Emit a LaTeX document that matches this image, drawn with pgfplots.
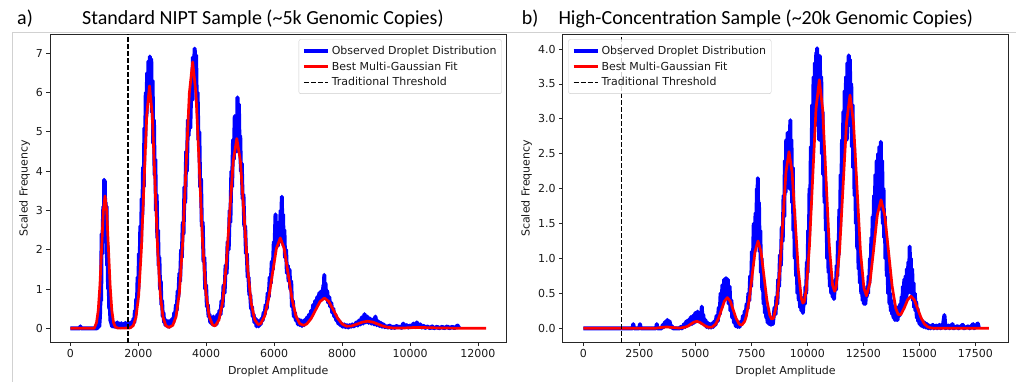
\documentclass[border=0pt]{standalone}
\usepackage{pgfplots}
\pgfplotsset{compat=1.18}
\usepackage{fontspec}
\setmainfont{DejaVu Sans}
\newfontfamily\titlefont{Carlito}
\definecolor{obsblue}{RGB}{0,0,255}
\definecolor{fitred}{RGB}{255,0,0}
\pgfplotsset{
  myax/.style={
    scale only axis, anchor=south west,
    axis line style={black!85, line width=0.8pt},
    every tick/.style={black!85, line width=0.8pt},
    major tick length=3.5pt, tick align=outside,
    xtick pos=left, ytick pos=left,
    minor tick num=0,
    tick label style={font=\fontsize{11}{13}\selectfont, text=black!90},
    label style={font=\fontsize{11}{13}\selectfont, text=black!90},
    /pgf/number format/assume math mode=true,
    /pgf/number format/1000 sep={},
    scaled ticks=false,
    xlabel style={at={(axis description cs:0.5,0)}, anchor=base, yshift=-31.3pt},
    legend cell align=left,
    legend image code/.code={\draw[#1] (0pt,0pt) -- (24pt,0pt);},
    legend style={font=\fontsize{11}{13}\selectfont, draw=black!20, rounded corners=2pt,
      fill=white, fill opacity=0.8, text opacity=1, inner xsep=3pt, inner ysep=4.5pt,
      row sep=1.8pt, text=black!90},
  },
  obs/.style={obsblue, line width=4pt, line join=round},
  fit/.style={fitred, line width=2.7pt, line join=round},
  thr/.style={black, line width=1.3pt, dash pattern=on 5pt off 2pt},
}
\begin{document}
\begin{tikzpicture}
\useasboundingbox (0pt,-382pt) rectangle (1016pt,0pt);
\draw[black!18, line width=0.8pt] (12pt,-382pt) -- (12pt,-32.7pt) -- (1016pt,-32.7pt);
\node[anchor=base west, inner sep=0pt, font=\titlefont\fontsize{20}{24}\selectfont] at (17pt,-24.3pt) {a)};
\node[anchor=base west, inner sep=0pt, font=\titlefont\fontsize{20}{24}\selectfont] at (82pt,-24.3pt) {Standard NIPT Sample (\textasciitilde 5k Genomic Copies)};
\node[anchor=base west, inner sep=0pt, font=\titlefont\fontsize{20}{24}\selectfont] at (521.7pt,-24.3pt) {b)};
\node[anchor=base west, inner sep=0pt, font=\titlefont\fontsize{20}{24}\selectfont] at (558.3pt,-24.3pt) {High-Concentration Sample (\textasciitilde 20k Genomic Copies)};

\begin{axis}[myax, at={(50pt,-342.7pt)}, width=456.5pt, height=308.7pt,
  xmin=-600, xmax=12840, ymin=-0.366, ymax=7.491,
  xtick={0,2000,4000,6000,8000,10000,12000},
  ytick={0,1,2,3,4,5,6,7},
  xlabel={Droplet Amplitude}, ylabel={Scaled Frequency},
  ylabel style={at={(axis description cs:-0.0559,0.5)}, anchor=center},
  legend style={at={(rel axis cs:1,1)}, anchor=north east, xshift=-4.8pt, yshift=-5.3pt},
]
\addplot[obs] coordinates {
(0,0) (280,0) (294,0.05) (310,0) (780,0) (800,0.02) (830,0.10) (850,0.05) (870,0.30) (890,0.9) (905,0.7) (920,2.4) (940,1.9) (955,2.6) (970,3.1) (985,2.5) (995,3.78) (1005,3.0) (1015,3.75) (1030,2.2) (1040,3.2) (1055,2.4) (1065,3.1) (1080,1.6) (1095,2.1) (1110,1.0) (1125,1.3) (1145,0.5) (1160,0.6) (1180,0.2) (1200,0.15)
(1230,0.05) (1260,0.14) (1290,0.04) (1320,0.12) (1350,0.03) (1380,0.15) (1410,0.05) (1440,0.12) (1470,0.03) (1500,0.13) (1530,0.05) (1560,0.11) (1590,0.03) (1620,0.14) (1650,0.04) (1680,0.12) (1710,0.05) (1740,0.13) (1770,0.06) (1800,0.16) (1830,0.10)
(1860,0.25) (1880,0.15) (1900,0.45) (1920,0.35) (1940,0.75) (1960,0.6) (1980,1.3) (2000,1.0) (2020,1.9) (2040,1.6) (2060,2.6) (2080,2.2) (2100,3.3) (2120,2.9) (2140,4.1) (2160,3.6) (2180,5.1) (2200,4.6) (2220,6.0) (2240,5.4) (2260,6.5) (2280,5.9) (2300,6.8) (2320,6.1) (2340,6.92) (2360,6.2) (2380,6.85) (2400,5.5) (2420,6.3) (2440,4.7) (2460,5.3) (2480,3.9) (2500,4.3) (2520,3.0) (2540,3.4) (2560,2.3) (2580,2.5) (2600,1.6) (2620,1.8) (2640,1.0) (2660,1.2) (2680,0.6) (2700,0.7) (2720,0.3) (2740,0.4) (2760,0.15) (2780,0.22)
(2800,0.08) (2830,0.2) (2860,0.05) (2890,0.18) (2920,0.04) (2950,0.2) (2980,0.1)
(3010,0.25) (3030,0.15) (3060,0.4) (3080,0.3) (3110,0.6) (3130,0.45) (3160,0.95) (3180,0.8) (3210,1.4) (3230,1.2) (3260,2.0) (3280,1.8) (3310,2.7) (3330,2.4) (3360,3.6) (3380,3.2) (3410,4.5) (3430,4.0) (3460,5.3) (3480,4.9) (3510,5.6) (3530,5.1) (3560,6.2) (3580,5.8) (3610,6.9) (3630,6.4) (3660,7.12) (3680,6.5) (3700,6.95) (3720,5.8) (3745,6.0) (3770,4.8) (3795,5.0) (3820,3.6) (3845,3.8) (3870,2.6) (3895,2.7) (3920,1.7) (3945,1.8) (3970,1.0) (3995,1.1) (4020,0.55) (4045,0.6) (4070,0.3) (4095,0.35) (4120,0.15) (4150,0.25)
(4180,0.1) (4210,0.3) (4240,0.08) (4270,0.28) (4300,0.1) (4330,0.35)
(4360,0.25) (4390,0.45) (4420,0.35) (4450,0.7) (4480,0.55) (4510,1.1) (4540,0.9) (4570,1.6) (4600,1.4) (4630,2.2) (4660,2.0) (4690,3.0) (4710,2.7) (4740,4.0) (4760,3.6) (4790,4.8) (4810,4.3) (4840,5.4) (4860,4.9) (4880,5.3) (4900,4.5) (4920,5.88) (4940,5.0) (4960,5.7) (4980,4.6) (5000,4.9) (5020,4.0) (5045,4.2) (5070,3.3) (5095,3.4) (5120,2.6) (5145,2.6) (5170,1.9) (5195,1.9) (5220,1.3) (5245,1.3) (5270,0.85) (5295,0.85) (5320,0.5) (5345,0.55) (5370,0.3) (5395,0.35) (5420,0.15) (5450,0.25)
(5480,0.05) (5510,0.2) (5540,0.05) (5570,0.18) (5600,0.1)
(5630,0.25) (5660,0.2) (5690,0.4) (5720,0.35) (5750,0.6) (5780,0.5) (5810,0.9) (5840,0.8) (5870,1.3) (5900,1.15) (5930,1.7) (5960,1.5) (5990,2.2) (6010,2.0) (6040,2.9) (6060,2.3) (6090,2.6) (6110,2.1) (6140,2.7) (6160,2.2) (6190,3.0) (6210,2.4) (6225,3.35) (6240,2.5) (6260,2.9) (6280,2.1) (6300,2.5) (6320,1.8) (6350,2.0) (6375,1.4) (6400,1.6) (6425,1.2) (6450,1.5) (6475,1.0) (6500,1.2) (6525,0.55) (6550,0.7) (6580,0.3) (6610,0.4) (6640,0.2) (6670,0.25)
(6700,0.1) (6730,0.22) (6760,0.08) (6790,0.2) (6820,0.06) (6850,0.18) (6880,0.08) (6910,0.22)
(6940,0.15) (6970,0.28) (7000,0.2) (7030,0.35) (7060,0.28) (7090,0.45) (7120,0.35) (7150,0.6) (7180,0.5) (7210,0.7) (7240,0.55) (7270,0.8) (7300,0.65) (7330,0.9) (7360,0.7) (7390,0.95) (7420,0.75) (7450,1.1) (7465,0.85) (7475,1.36) (7490,0.9) (7510,1.15) (7530,0.8) (7560,0.95) (7590,0.65) (7620,0.8) (7650,0.55) (7680,0.65) (7710,0.4) (7740,0.5) (7770,0.3) (7800,0.35) (7830,0.2) (7860,0.25) (7890,0.12) (7920,0.18) (7950,0.08) (7980,0.12)
(8020,0.04) (8060,0.1) (8100,0.03) (8140,0.08) (8180,0.02) (8220,0.08) (8260,0.04) (8300,0.1) (8340,0.05)
(8380,0.08) (8420,0.15) (8460,0.07) (8500,0.2) (8540,0.1) (8580,0.28) (8620,0.12) (8660,0.36) (8700,0.15) (8740,0.3) (8780,0.14) (8820,0.25) (8860,0.12) (8900,0.22) (8940,0.1) (8980,0.3) (9020,0.08) (9060,0.18) (9100,0.06) (9140,0.14) (9180,0.04) (9220,0.1) (9260,0.03)
(9300,0.06) (9350,0.02) (9400,0.07) (9450,0.01) (9500,0.05) (9550,0.01) (9600,0.06) (9650,0.02) (9700,0.05) (9750,0.01) (9800,0.12) (9850,0.03) (9900,0.08) (9950,0.02) (10000,0.07) (10050,0.03) (10100,0.12) (10150,0.03) (10200,0.15) (10250,0.04) (10300,0.1) (10350,0.02) (10400,0.06) (10450,0.01) (10500,0.05) (10600,0.0) (10650,0.05) (10700,0.0) (10800,0.04) (10850,0.0) (10950,0.04) (11000,0.0) (11100,0.05) (11150,0.0) (11250,0.04) (11300,0.0) (11400,0.07) (11450,0.0)
};
\addlegendentry{Observed Droplet Distribution}
\addplot[fit] coordinates {
(0,0) (700,0) (720,0.037) (770,0.148) (820,0.456) (870,1.094) (920,2.044) (970,2.974) (1020,3.37) (1070,2.974) (1120,2.044) (1170,1.094) (1220,0.456) (1270,0.148) (1320,0.037) (1400,0.005) (1700,0.006) (1770,0.013) (1850,0.068) (1930,0.271) (2010,0.835) (2090,2.003) (2170,3.742) (2250,5.445) (2330,6.17) (2410,5.445) (2490,3.742) (2570,2.003) (2650,0.835) (2730,0.271) (2810,0.070) (2900,0.022) (3015,0.075) (3112,0.298) (3210,0.917) (3307,2.201) (3405,4.112) (3502,5.983) (3600,6.78) (3697,5.983) (3795,4.112) (3892,2.201) (3990,0.917) (4087,0.301) (4185,0.090) (4240,0.066) (4270,0.072) (4375,0.215) (4480,0.654) (4585,1.568) (4690,2.930) (4795,4.263) (4900,4.83) (5005,4.263) (5110,2.930) (5215,1.568) (5320,0.656) (5425,0.223) (5530,0.096) (5605,0.120) (5720,0.314) (5835,0.747) (5950,1.395) (6065,2.030) (6180,2.30) (6295,2.030) (6410,1.395) (6525,0.748) (6640,0.315) (6755,0.117) (6870,0.074) (6960,0.111) (7090,0.250) (7220,0.467) (7350,0.680) (7480,0.77) (7610,0.681) (7740,0.470) (7870,0.257) (8000,0.112) (8130,0.055) (8260,0.056) (8450,0.109) (8600,0.159) (8750,0.18) (8900,0.159) (9050,0.109) (9200,0.058) (9350,0.024) (9500,0.008) (9800,0.008) (10100,0.02) (10400,0.02) (10800,0.01) (11300,0.004) (12240,0)
};
\addlegendentry{Best Multi-Gaussian Fit}
\addplot[thr] coordinates {(1700,-0.366) (1700,7.491)};
\addlegendentry{Traditional Threshold}
\end{axis}

\begin{axis}[myax, at={(562.7pt,-342.7pt)}, width=445.6pt, height=308.7pt,
  xmin=-920, xmax=18973, ymin=-0.206, ymax=4.215,
  xtick={0,2500,5000,7500,10000,12500,15000,17500},
  ytick={0,0.5,1,1.5,2,2.5,3,3.5,4},
  yticklabel style={/pgf/number format/fixed, /pgf/number format/fixed zerofill, /pgf/number format/precision=1},
  xlabel={Droplet Amplitude}, ylabel={Scaled Frequency},
  ylabel style={at={(axis description cs:-0.0808,0.5)}, anchor=center},
  legend style={at={(rel axis cs:0,1)}, anchor=north west, xshift=5.6pt, yshift=-5.3pt},
]
\addplot[obs] coordinates {
(0,0) (2200,0) (2230,0.06) (2260,0) (2500,0) (2530,0.06) (2560,0) (3250,0) (3280,0.06) (3310,0) (3500,0) (3550,0.05) (3600,0.02) (3650,0.09) (3700,0.04) (3750,0.12) (3800,0.05) (3850,0.1) (3900,0.02) (3950,0.03) (4000,0) (4300,0) (4350,0.02) (4400,0.0)
(4450,0.02) (4500,0.06) (4550,0.02) (4600,0.1) (4650,0.04) (4700,0.12) (4750,0.05) (4800,0.16) (4850,0.06) (4900,0.18) (4950,0.08) (5000,0.22) (5050,0.1) (5100,0.24) (5150,0.1) (5200,0.2) (5250,0.08) (5290,0.31) (5320,0.08) (5350,0.2) (5400,0.05) (5450,0.12) (5500,0.02) (5550,0.08) (5600,0.01) (5650,0.06) (5700,0.01) (5750,0.07) (5800,0.02) (5850,0.1) (5900,0.05) (5950,0.18) (6000,0.1) (6050,0.3) (6090,0.2) (6130,0.5) (6170,0.3) (6210,0.62) (6250,0.4) (6290,0.7) (6330,0.45) (6370,0.72) (6410,0.45) (6450,0.7) (6490,0.35) (6530,0.6) (6570,0.25) (6610,0.4) (6650,0.15) (6690,0.22) (6730,0.08) (6770,0.12) (6810,0.03) (6850,0.08) (6890,0.02) (6930,0.06) (6970,0.02) (7010,0.06)
(7050,0.1) (7090,0.08) (7130,0.18) (7170,0.12) (7210,0.25) (7250,0.18) (7290,0.35) (7330,0.28) (7370,0.5) (7410,0.4) (7450,0.75) (7490,0.6) (7530,1.1) (7570,0.9) (7610,1.5) (7650,1.1) (7690,1.65) (7720,1.2) (7750,2.0) (7770,1.5) (7790,2.15) (7810,1.4) (7840,1.8) (7870,1.1) (7900,1.4) (7930,0.8) (7960,1.0) (7990,0.55) (8020,0.65) (8050,0.35) (8080,0.45) (8110,0.22) (8140,0.3) (8170,0.15) (8200,0.2) (8230,0.08) (8260,0.14)
(8300,0.06) (8340,0.15) (8380,0.05) (8420,0.12) (8460,0.06) (8500,0.18)
(8540,0.3) (8580,0.2) (8620,0.45) (8660,0.35) (8700,0.7) (8740,0.6) (8780,1.05) (8820,0.9) (8860,1.45) (8900,1.25) (8940,1.9) (8970,1.6) (9000,2.4) (9030,1.95) (9060,2.7) (9090,2.1) (9120,2.8) (9150,2.2) (9180,2.75) (9210,2.0) (9240,2.98) (9260,2.1) (9290,2.7) (9320,1.8) (9350,2.3) (9380,1.4) (9410,1.7) (9440,1.0) (9470,1.25) (9500,0.75) (9530,0.9) (9560,0.5) (9590,0.65) (9620,0.4) (9650,0.5) (9680,0.3) (9710,0.42) (9740,0.25) (9770,0.38) (9800,0.22) (9830,0.35)
(9860,0.45) (9890,0.35) (9920,0.6) (9950,0.5) (9980,0.95) (10010,0.8) (10040,1.4) (10070,1.2) (10100,2.0) (10130,1.7) (10160,2.6) (10190,2.3) (10220,3.2) (10250,2.8) (10280,3.6) (10310,3.0) (10340,3.8) (10370,3.1) (10400,3.95) (10420,3.0) (10440,4.01) (10470,2.9) (10500,3.8) (10530,2.7) (10560,3.9) (10590,2.9) (10620,3.6) (10650,2.5) (10680,3.1) (10710,2.2) (10740,2.6) (10770,1.8) (10800,2.1) (10830,1.4) (10860,1.6) (10890,1.0) (10920,1.2) (10950,0.8) (10980,0.95) (11010,0.6) (11040,0.75) (11070,0.5) (11100,0.65) (11130,0.45) (11160,0.6) (11190,0.42) (11220,0.58)
(11250,0.7) (11280,0.55) (11310,0.9) (11340,0.75) (11370,1.25) (11400,1.05) (11430,1.7) (11460,1.45) (11490,2.2) (11520,1.9) (11550,2.7) (11580,2.3) (11610,3.1) (11640,2.6) (11670,3.4) (11700,2.8) (11730,3.6) (11760,2.7) (11790,3.8) (11820,2.9) (11850,3.91) (11870,3.0) (11900,3.85) (11930,2.9) (11960,3.5) (11990,2.6) (12020,3.2) (12050,2.3) (12080,2.7) (12110,1.9) (12140,2.2) (12170,1.5) (12200,1.75) (12230,1.15) (12260,1.35) (12290,0.85) (12320,1.0) (12350,0.65) (12380,0.8) (12410,0.5) (12440,0.65) (12470,0.4) (12500,0.55) (12530,0.35) (12560,0.5) (12590,0.35) (12620,0.5)
(12650,0.45) (12680,0.6) (12710,0.5) (12740,0.75) (12770,0.65) (12800,1.0) (12830,0.85) (12860,1.3) (12890,1.1) (12920,1.6) (12950,1.35) (12980,1.9) (13010,1.55) (13040,2.2) (13070,1.6) (13100,2.4) (13130,1.7) (13160,2.5) (13190,1.75) (13220,2.6) (13250,1.8) (13280,2.67) (13310,1.7) (13340,2.4) (13370,1.5) (13400,2.0) (13430,1.3) (13460,1.6) (13490,1.0) (13520,1.3) (13550,0.75) (13580,0.95) (13610,0.5) (13640,0.7) (13670,0.35) (13700,0.5) (13730,0.25) (13760,0.4) (13790,0.2) (13820,0.3) (13850,0.15) (13880,0.25) (13910,0.12) (13940,0.22) (13970,0.12) (14000,0.3) (14030,0.12) (14060,0.3)
(14090,0.3) (14120,0.18) (14150,0.35) (14180,0.22) (14210,0.45) (14240,0.28) (14270,0.6) (14300,0.35) (14330,0.7) (14360,0.4) (14390,0.75) (14420,0.45) (14450,0.85) (14480,0.5) (14510,0.95) (14540,0.55) (14570,1.17) (14590,0.6) (14620,1.0) (14650,0.5) (14680,0.85) (14710,0.4) (14740,0.65) (14770,0.3) (14800,0.5) (14830,0.25) (14860,0.38) (14890,0.15) (14920,0.28) (14950,0.1) (14980,0.2) (15010,0.06) (15040,0.15) (15070,0.04) (15100,0.12) (15130,0.03) (15160,0.1) (15200,0.02) (15250,0.08) (15300,0.01) (15350,0.06) (15400,0.0)
(15450,0.04) (15500,0.0) (15600,0.05) (15650,0.0) (15750,0.04) (15800,0.0) (15900,0.05) (15950,0.0) (16050,0.03) (16120,0.19) (16170,0.0) (16300,0.04) (16350,0.0) (16480,0.06) (16530,0.0) (16700,0.03) (16750,0.0) (16940,0.05) (16990,0.0) (17200,0.03) (17250,0.0) (17400,0.06) (17450,0.0) (17610,0.07) (17660,0.0)
};
\addlegendentry{Observed Droplet Distribution}
\addplot[fit] coordinates {
(0,0) (3200,0) (3470,0.012) (3720,0.02) (3970,0.012) (4300,0.003) (4540,0.017) (4672,0.032) (4802,0.061) (4932,0.088) (5062,0.10) (5192,0.088) (5322,0.061) (5452,0.033) (5582,0.016) (5745,0.017) (5909,0.060) (6039,0.143) (6169,0.267) (6299,0.388) (6429,0.44) (6559,0.388) (6689,0.267) (6819,0.144) (6949,0.066) (7000,0.051) (7080,0.048) (7200,0.097) (7275,0.171) (7406,0.406) (7537,0.758) (7668,1.103) (7799,1.25) (7930,1.103) (8061,0.759) (8192,0.41) (8323,0.188) (8400,0.134) (8491,0.144) (8633,0.35) (8770,0.823) (8908,1.534) (9045,2.233) (9183,2.53) (9320,2.233) (9458,1.538) (9596,0.84) (9733,0.43) (9800,0.362) (9860,0.379) (9946,0.536) (10093,1.167) (10241,2.161) (10388,3.142) (10536,3.56) (10683,3.143) (10831,2.167) (10978,1.194) (11126,0.622) (11221,0.53) (11286,0.593) (11441,1.116) (11596,2.032) (11751,2.948) (11906,3.34) (12061,2.948) (12216,2.031) (12371,1.107) (12526,0.578) (12640,0.465) (12795,0.652) (12960,1.126) (13125,1.624) (13290,1.84) (13455,1.624) (13620,1.118) (13785,0.606) (13950,0.284) (14060,0.197) (14179,0.198) (14329,0.292) (14479,0.409) (14629,0.46) (14779,0.406) (14929,0.279) (15079,0.149) (15229,0.062) (15379,0.020) (15529,0.005) (15700,0) (18100,0)
};
\addlegendentry{Best Multi-Gaussian Fit}
\addplot[thr] coordinates {(1700,-0.206) (1700,4.215)};
\addlegendentry{Traditional Threshold}
\end{axis}
\end{tikzpicture}
\end{document}
